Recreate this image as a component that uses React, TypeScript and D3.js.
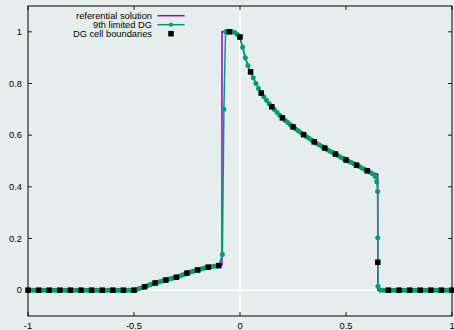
import React from "react";
import * as d3 from "d3";

const W = 454;
const H = 330;

// Axis ticks
const xTicks = [-1, -0.5, 0, 0.5, 1];
const xTickLabels = ["-1", "-0.5", "0", "0.5", "1"];
const yTicks = [0, 0.2, 0.4, 0.6, 0.8, 1];
const yTickLabels = ["0", "0.2", "0.4", "0.6", "0.8", "1"];

// Legend
const seriesNames = ["referential solution", "9th limited DG", "DG cell boundaries"];

// Referential solution (polyline)
const refX = [
  -1, -0.5, -0.4875, -0.475, -0.4625, -0.45, -0.425, -0.4, -0.375, -0.35, -0.325, -0.3, -0.275, -0.25,
  -0.225, -0.2, -0.175, -0.15, -0.125, -0.1, -0.085, -0.085, -0.04, -0.025, -0.0125, 0, 0.0125, 0.025,
  0.0375, 0.05, 0.075, 0.1, 0.125, 0.15, 0.175, 0.2, 0.25, 0.3, 0.35, 0.4, 0.45, 0.5, 0.55, 0.6, 0.625,
  0.65, 0.65, 1,
];
const refY = [
  0, 0, 0.003, 0.006, 0.0095, 0.013, 0.021, 0.028, 0.0335, 0.039, 0.045, 0.05, 0.058, 0.066, 0.072,
  0.078, 0.084, 0.089, 0.093, 0.095, 0.097, 1.0, 1.0, 0.997, 0.99, 0.978, 0.94, 0.9, 0.87, 0.845, 0.8,
  0.763, 0.735, 0.71, 0.688, 0.667, 0.632, 0.602, 0.574, 0.55, 0.527, 0.504, 0.484, 0.462, 0.455, 0.449,
  0, 0,
];

// 9th limited DG solution samples
const dgX = [
  -1, -0.9875, -0.975, -0.9625, -0.95, -0.9375, -0.925, -0.9125, -0.9, -0.8875, -0.875, -0.8625, -0.85,
  -0.8375, -0.825, -0.8125, -0.8, -0.7875, -0.775, -0.7625, -0.75, -0.7375, -0.725, -0.7125, -0.7,
  -0.6875, -0.675, -0.6625, -0.65, -0.6375, -0.625, -0.6125, -0.6, -0.5875, -0.575, -0.5625, -0.55,
  -0.5375, -0.525, -0.5125, -0.5, -0.4875, -0.475, -0.4625, -0.45, -0.4375, -0.425, -0.4125, -0.4,
  -0.3875, -0.375, -0.3625, -0.35, -0.3375, -0.325, -0.3125, -0.3, -0.2875, -0.275, -0.2625, -0.25,
  -0.2375, -0.225, -0.2125, -0.2, -0.1875, -0.175, -0.1625, -0.15, -0.1375, -0.125, -0.1125, -0.1,
  -0.083, -0.076, -0.068, -0.0625, -0.05, -0.0375, -0.025, -0.0125, 0, 0.0125, 0.025, 0.0375, 0.05,
  0.0625, 0.075, 0.0875, 0.1, 0.1125, 0.125, 0.1375, 0.15, 0.1625, 0.175, 0.1875, 0.2, 0.2125, 0.225,
  0.2375, 0.25, 0.2625, 0.275, 0.2875, 0.3, 0.3125, 0.325, 0.3375, 0.35, 0.3625, 0.375, 0.3875, 0.4,
  0.4125, 0.425, 0.4375, 0.45, 0.4625, 0.475, 0.4875, 0.5, 0.5125, 0.525, 0.5375, 0.55, 0.5625, 0.575,
  0.5875, 0.6, 0.6125, 0.625, 0.6375, 0.645, 0.649, 0.65, 0.651, 0.6625, 0.675, 0.6875, 0.7, 0.7125,
  0.725, 0.7375, 0.75, 0.7625, 0.775, 0.7875, 0.8, 0.8125, 0.825, 0.8375, 0.85, 0.8625, 0.875, 0.8875,
  0.9, 0.9125, 0.925, 0.9375, 0.95, 0.9625, 0.975, 0.9875, 1,
];
const dgY = [
  0, 0, 0, 0, 0, 0, 0, 0, 0, 0, 0, 0, 0, 0, 0, 0, 0, 0, 0, 0, 0, 0, 0, 0, 0, 0, 0, 0, 0, 0, 0, 0, 0, 0,
  0, 0, 0, 0, 0, 0, 0, 0.003, 0.006, 0.0095, 0.013, 0.017, 0.021, 0.0245, 0.028, 0.031, 0.0335, 0.036,
  0.039, 0.042, 0.045, 0.047, 0.05, 0.054, 0.058, 0.062, 0.066, 0.069, 0.072, 0.075, 0.078, 0.081, 0.084,
  0.087, 0.089, 0.091, 0.093, 0.094, 0.095, 0.138, 0.7, 1.0, 1.0, 1.0, 1.0, 0.997, 0.99, 0.978, 0.94,
  0.9, 0.87, 0.845, 0.822, 0.8, 0.781, 0.763, 0.749, 0.735, 0.722, 0.71, 0.699, 0.688, 0.677, 0.667,
  0.658, 0.649, 0.64, 0.632, 0.624, 0.617, 0.609, 0.602, 0.595, 0.588, 0.581, 0.574, 0.568, 0.562,
  0.556, 0.55, 0.544, 0.538, 0.533, 0.527, 0.521, 0.515, 0.51, 0.504, 0.499, 0.494, 0.489, 0.484,
  0.479, 0.473, 0.468, 0.462, 0.457, 0.451, 0.44, 0.42, 0.382, 0.203, 0.015, 0, 0, 0, 0, 0, 0, 0, 0, 0,
  0, 0, 0, 0, 0, 0, 0, 0, 0, 0, 0, 0, 0, 0, 0, 0, 0, 0, 0,
];

// DG cell boundaries
const cellX = [
  -1, -0.95, -0.9, -0.85, -0.8, -0.75, -0.7, -0.65, -0.6, -0.55, -0.5, -0.45, -0.4, -0.35, -0.3, -0.25,
  -0.2, -0.15, -0.1, -0.05, 0, 0.05, 0.1, 0.15, 0.2, 0.25, 0.3, 0.35, 0.4, 0.45, 0.5, 0.55, 0.6, 0.65,
  0.7, 0.75, 0.8, 0.85, 0.9, 0.95, 1,
];
const cellY = [
  0, 0, 0, 0, 0, 0, 0, 0, 0, 0, 0, 0.013, 0.028, 0.039, 0.05, 0.066, 0.078, 0.089, 0.095, 1.0, 0.98,
  0.845, 0.763, 0.71, 0.667, 0.632, 0.602, 0.574, 0.55, 0.527, 0.504, 0.484, 0.462, 0.108, 0, 0, 0, 0,
  0, 0, 0,
];

const PURPLE = "#9400d3";
const GREEN = "#009e73";
const BG = "#e5eeec";
const FONT = "'Liberation Sans', Arial, sans-serif";

export default function App() {
  const left = 28, right = 452, top = 6, bottom = 316;
  const x = d3.scaleLinear().domain([-1, 1]).range([left, right]);
  const y = d3.scaleLinear().domain([-0.1, 1.1]).range([bottom, top]);

  const refPath = d3
    .line<number>()
    .x((d) => x(d))
    .y((_, i) => y(refY[i]))(refX);
  const dgPath = d3
    .line<number>()
    .x((d) => x(d))
    .y((_, i) => y(dgY[i]))(dgX);

  const tickLen = 4;
  const sq = 5.5;

  return (
    <svg
      width={W}
      height={H}
      style={{ position: "absolute", left: 0, top: 0, background: BG }}
      fontFamily={FONT}
    >
      <rect x={0} y={0} width={W} height={H} fill={BG} />
      {/* zero axes */}
      <line x1={x(0)} x2={x(0)} y1={top} y2={bottom} stroke="#ffffff" strokeWidth={1.5} />
      <line x1={left} x2={right} y1={y(0)} y2={y(0)} stroke="#ffffff" strokeWidth={1.5} />

      {/* ticks */}
      {yTicks.map((t, i) => (
        <g key={"y" + i}>
          <line x1={left} x2={left + tickLen} y1={y(t)} y2={y(t)} stroke="#222" strokeWidth={1} />
          <line x1={right} x2={right - tickLen} y1={y(t)} y2={y(t)} stroke="#222" strokeWidth={1} />
          <text x={22} y={y(t) + 3.3} textAnchor="end" fontSize={9.3} fill="#000">
            {yTickLabels[i]}
          </text>
        </g>
      ))}
      {xTicks.map((t, i) => (
        <g key={"x" + i}>
          <line x1={x(t)} x2={x(t)} y1={bottom} y2={bottom - tickLen} stroke="#222" strokeWidth={1} />
          <line x1={x(t)} x2={x(t)} y1={top} y2={top + tickLen} stroke="#222" strokeWidth={1} />
          <text x={x(t)} y={329} textAnchor="middle" fontSize={9.3} fill="#000">
            {xTickLabels[i]}
          </text>
        </g>
      ))}

      {/* referential solution */}
      <path d={refPath || ""} fill="none" stroke={PURPLE} strokeWidth={1.5} />

      {/* DG solution */}
      <path d={dgPath || ""} fill="none" stroke={GREEN} strokeWidth={1.5} />
      {dgX.map((d, i) => (
        <circle key={"p" + i} cx={x(d)} cy={y(dgY[i])} r={2.5} fill={GREEN} />
      ))}

      {/* cell boundaries */}
      {cellX.map((d, i) => (
        <rect key={"c" + i} x={x(d) - sq / 2} y={y(cellY[i]) - sq / 2} width={sq} height={sq} fill="#000" />
      ))}

      {/* border */}
      <rect x={left} y={top} width={right - left} height={bottom - top} fill="none" stroke="#000" strokeWidth={1} />

      {/* legend */}
      <g fontSize={9.3} fill="#000">
        <text x={152} y={19} textAnchor="end">{seriesNames[0]}</text>
        <line x1={157.5} x2={184.5} y1={15.7} y2={15.7} stroke={PURPLE} strokeWidth={1.5} />
        <text x={152} y={28} textAnchor="end">{seriesNames[1]}</text>
        <line x1={157.5} x2={184.5} y1={24.7} y2={24.7} stroke={GREEN} strokeWidth={1.5} />
        <circle cx={171} cy={24.7} r={2.1} fill={GREEN} />
        <text x={152} y={37} textAnchor="end">{seriesNames[2]}</text>
        <rect x={171 - sq / 2} y={33.7 - sq / 2} width={sq} height={sq} fill="#000" />
      </g>
    </svg>
  );
}
